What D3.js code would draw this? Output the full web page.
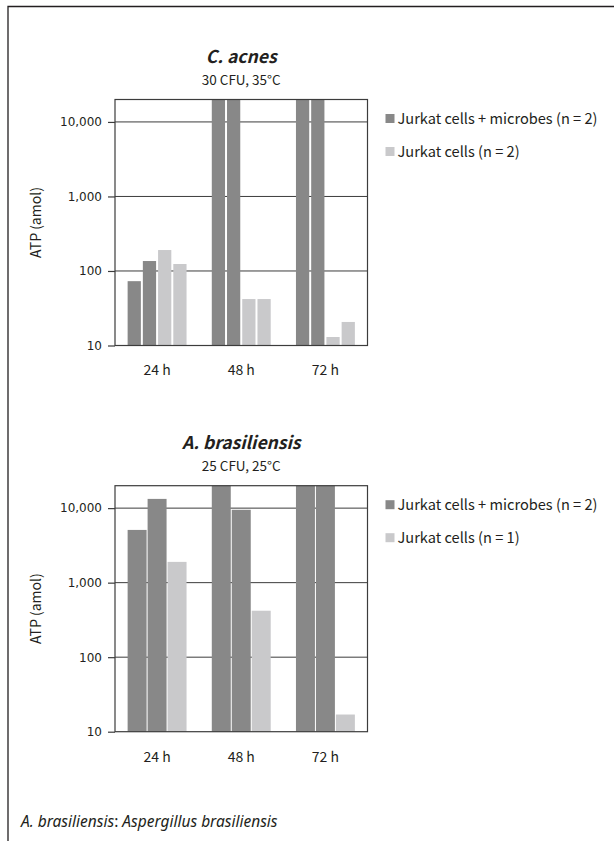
<!DOCTYPE html>
<html><head><meta charset="utf-8">
<script src="https://cdn.jsdelivr.net/npm/d3@7"></script>
<style>
html,body{margin:0;padding:0;background:#fff;}
svg{display:block;}
text{fill:#231f20;}
</style></head><body>
<svg id="c" width="614" height="841"></svg>
<script>
// ---------- data ----------
const timepoints = ["24 h", "48 h", "72 h"];
const yTicks = [10, 100, 1000, 10000];
const yDomain = [10, 20000];

// Chart 1: C. acnes (bars above 20,000 are cut at the frame top)
const acnesMicrobes = [[73, 136], [30000, 30000], [30000, 30000]];
const acnesCells    = [[191, 124], [42, 42], [13, 20.7]];
const acnesLegend   = ["Jurkat cells + microbes (n = 2)", "Jurkat cells (n = 2)"];

// Chart 2: A. brasiliensis
const brasMicrobes = [[5100, 13300], [30000, 9500], [30000, 30000]];
const brasCells    = [[1900], [420], [17]];
const brasLegend   = ["Jurkat cells + microbes (n = 2)", "Jurkat cells (n = 1)"];

const colors = {microbes: "#888888", cells: "#c9c9cb"};
const FONT = "'Noto Sans CJK JP', 'Noto Sans', sans-serif";

const svg = d3.select("#c");

// outer frame (top + left)
svg.append("path").attr("d", "M8,841 V6.5 H614")
  .attr("fill", "none").attr("stroke", "#231f20").attr("stroke-width", 1.3);

function drawChart(cfg) {
  const left = 115, right = 367.5, top = cfg.top, bottom = cfg.top + 246;
  const g = svg.append("g");
  const x = d3.scaleBand().domain(timepoints).range([left, right]).paddingInner(0.3).paddingOuter(0.15);
  const y = d3.scaleLog().domain(yDomain).range([bottom, top]).clamp(true);

  const recs = [];
  timepoints.forEach((t, i) => {
    const vals = cfg.microbes[i].map(v => ({v, c: colors.microbes}))
      .concat(cfg.cells[i].map(v => ({v, c: colors.cells})));
    const inner = d3.scaleBand().domain(d3.range(vals.length)).range([0, x.bandwidth()]).paddingInner(cfg.innerPad);
    vals.forEach((d, j) => recs.push({x: x(t) + inner(j), w: inner.bandwidth(), v: d.v, c: d.c}));
  });

  // gridlines
  g.append("g").selectAll("line").data(yTicks.filter(t => t > yDomain[0])).join("line")
    .attr("x1", left).attr("x2", right).attr("y1", d => y(d)).attr("y2", d => y(d))
    .attr("stroke", "#3c3c3c").attr("stroke-width", 1);

  // bars
  g.append("g").selectAll("rect").data(recs).join("rect")
    .attr("x", d => d.x).attr("width", d => d.w)
    .attr("y", d => y(d.v)).attr("height", d => bottom - y(d.v))
    .attr("fill", d => d.c);

  // frame
  g.append("rect").attr("x", left).attr("y", top).attr("width", right - left).attr("height", bottom - top)
    .attr("fill", "none").attr("stroke", "#3c3c3c").attr("stroke-width", 1.2);

  // y axis
  const ya = d3.axisLeft(y).tickValues(yTicks).tickFormat(d3.format(",")).tickSize(7).tickPadding(6);
  const ag = g.append("g").attr("transform", `translate(${left},0)`).call(ya);
  ag.select(".domain").remove();
  ag.selectAll(".tick line").attr("stroke", "#3c3c3c").attr("stroke-width", 1.2);
  ag.selectAll(".tick text").attr("font-family", "'DejaVu Sans', sans-serif").attr("font-size", 12).attr("fill", "#231f20");

  // x labels
  const xa = d3.axisBottom(x).tickSize(0).tickPadding(20);
  const xg = g.append("g").attr("transform", `translate(0,${bottom})`).call(xa);
  xg.select(".domain").remove();
  xg.selectAll(".tick text").attr("font-family", FONT).attr("font-size", 14).attr("fill", "#231f20");

  // y label
  g.append("text").attr("transform", `translate(41,${(top + bottom) / 2}) rotate(-90)`)
    .attr("text-anchor", "middle").attr("font-family", FONT).attr("font-size", 14).text("ATP (amol)");

  // titles
  const cx = (left + right) / 2;
  g.append("text").attr("x", cx).attr("y", top - 37).attr("text-anchor", "middle")
    .attr("font-family", FONT).attr("font-size", 17.5).attr("font-weight", "bold").attr("font-style", "italic")
    .text(cfg.title);
  g.append("text").attr("x", cx).attr("y", top - 15).attr("text-anchor", "middle")
    .attr("font-family", FONT).attr("font-size", 13.5).text(cfg.subtitle);

  // legend
  const lg = g.append("g").selectAll("g").data(cfg.legend).join("g")
    .attr("transform", (d, i) => `translate(385.5,${top + 19 + i * 33})`);
  lg.append("rect").attr("x", 0).attr("y", -4.5).attr("width", 9).attr("height", 9)
    .attr("fill", (d, i) => i === 0 ? colors.microbes : colors.cells);
  lg.append("text").attr("x", 12).attr("y", 0).attr("dy", "0.35em")
    .attr("font-family", FONT).attr("font-size", 14.6).text(d => d);
}

drawChart({top: 99.5, title: "C. acnes", subtitle: "30 CFU, 35°C",
  microbes: acnesMicrobes, cells: acnesCells, legend: acnesLegend, innerPad: 0.13});
drawChart({top: 485.7, title: "A. brasiliensis", subtitle: "25 CFU, 25°C",
  microbes: brasMicrobes, cells: brasCells, legend: brasLegend, innerPad: 0.05});

// footnote
const fn = svg.append("text").attr("x", 21).attr("y", 827)
  .attr("font-family", "'Noto Sans', sans-serif").attr("font-size", 15.5);
fn.append("tspan").attr("font-style", "italic").text("A. brasiliensis");
fn.append("tspan").text(": ");
fn.append("tspan").attr("font-style", "italic").text("Aspergillus brasiliensis");
</script>
</body></html>
